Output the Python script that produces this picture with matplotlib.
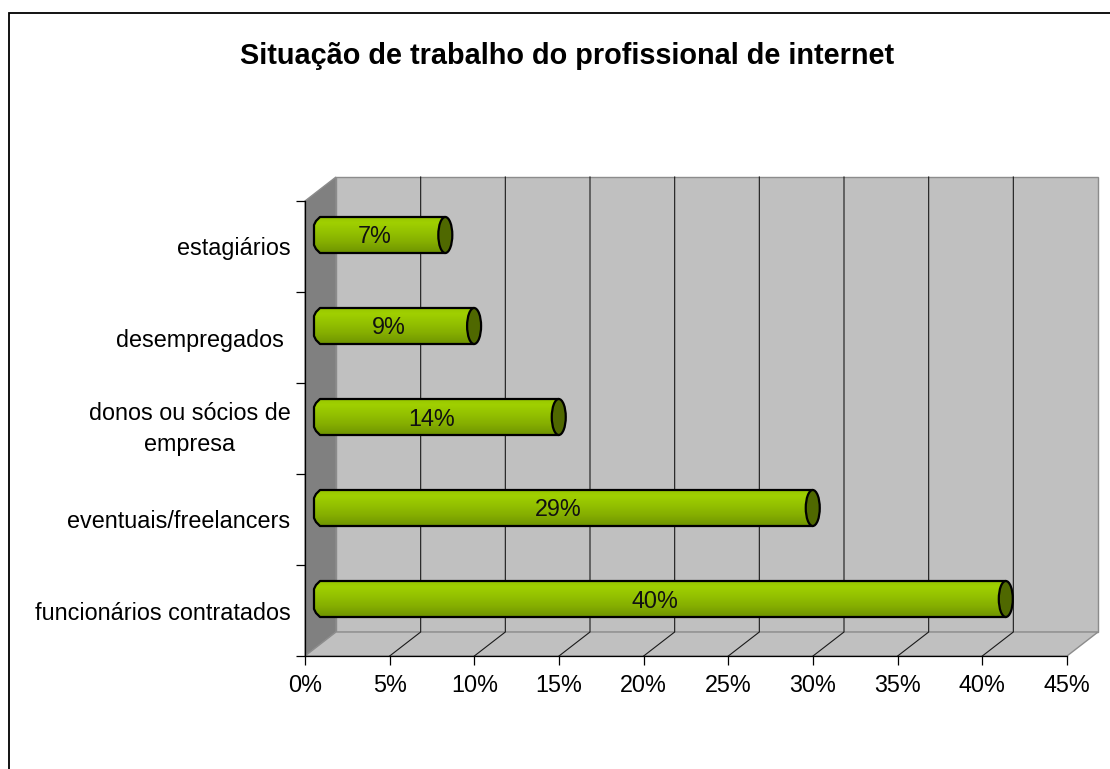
import matplotlib
matplotlib.use('Agg')
import matplotlib.pyplot as plt
import numpy as np
from matplotlib.colors import LinearSegmentedColormap
from matplotlib.patches import Ellipse, Polygon, Rectangle

categories = ['funcionários contratados', 'eventuais/freelancers', 'donos ou sócios de\nempresa',
              'desempregados ', 'estagiários']
values = [40.5, 29.1, 14.1, 9.1, 7.4]
value_labels = ['40%', '29%', '14%', '9%', '7%']
xticks = [0, 5, 10, 15, 20, 25, 30, 35, 40, 45]
title = 'Situação de trabalho do profissional de internet'

W, H = 1110, 769
plt.rcParams['font.family'] = ['Liberation Sans', 'DejaVu Sans']

fig = plt.figure(figsize=(W / 100, H / 100), dpi=100)
# frame is cut off by the image on the right and at the bottom
fig.add_artist(Rectangle((9 / W, -0.1), 1.2, 1.1 - 13 / H, transform=fig.transFigure,
                         fill=False, ec='black', lw=1.3))
fig.text(567 / W, 1 - 56 / H, title, ha='center', va='center', fontsize=20.8, fontweight='bold')

ax = fig.add_axes([305 / W, 1 - 656 / H, 762 / W, 455 / H])
ax.set_xlim(0, 45)
ax.set_ylim(0, 5)
ax.patch.set_visible(False)

# 3d box offsets, in data units
px_x = 45 / 762
px_y = 5 / 455
dx = 31 * px_x
dy = 24 * px_y

wall_gray = '#c0c0c0'
side_gray = '#808080'
edge_gray = '#8c8c8c'
ax.add_patch(Polygon([(dx, dy), (45 + dx, dy), (45 + dx, 5 + dy), (dx, 5 + dy)], fc=wall_gray, ec=edge_gray,
                     lw=1, clip_on=False, zorder=0))
ax.add_patch(Polygon([(0, 0), (dx, dy), (dx, 5 + dy), (0, 5)], fc=side_gray, ec=edge_gray, lw=1,
                     clip_on=False, zorder=0))
ax.add_patch(Polygon([(0, 0), (45, 0), (45 + dx, dy), (dx, dy)], fc=wall_gray, ec=edge_gray, lw=1,
                     clip_on=False, zorder=0))
for t in xticks[1:-1]:
    ax.plot([t, t + dx, t + dx], [0, dy, 5 + dy], color='#1a1a1a', lw=0.8, clip_on=False, zorder=1)

grad = LinearSegmentedColormap.from_list('bar', [(0, '#6f9400'), (0.3, '#85ae00'), (0.6, '#94c200'),
                                                 (0.85, '#a0d000'), (1, '#98c600')])
bar_h = 36 * px_y
y_off = 11.5 * px_y
x_off = 9 * px_x
cap_w = 14 * px_x
ramp = np.linspace(0, 1, 64).reshape(-1, 1)

for i, (v, lab) in enumerate(zip(values, value_labels)):
    yc = i + 0.5 + y_off
    end = v + 15 * px_x
    top = yc + bar_h / 2
    bot = yc - bar_h / 2
    body = Polygon([(x_off + 6 * px_x, top), (end, top), (end, bot), (x_off + 6 * px_x, bot),
                    (x_off + 2 * px_x, bot + 4 * px_y), (x_off, bot + 8 * px_y), (x_off, top - 8 * px_y),
                    (x_off + 2 * px_x, top - 4 * px_y)],
                   fc='none', ec='black', lw=1.6, joinstyle='round', zorder=4)
    ax.add_patch(body)
    im = ax.imshow(ramp, extent=(x_off, end, bot, top), origin='lower', cmap=grad, vmin=0, vmax=1,
                   aspect='auto', interpolation='bilinear', zorder=3)
    im.set_clip_path(body)
    ax.add_patch(Ellipse((end, yc), cap_w, bar_h, fc='#4f6800', ec='black', lw=1.6, zorder=5))
    ax.text((x_off + end) / 2 - 5 * px_x, yc - 2 * px_y, lab, ha='center', va='center', fontsize=16.8,
            color='#111111', zorder=6)

ax.set_xlim(0, 45)
ax.set_ylim(0, 5)
ax.set_xticks(xticks)
ax.set_xticklabels([f'{t}%' for t in xticks], fontsize=16.8)
ax.set_yticks(range(6))
ax.set_yticklabels([])
# two-line label sits a bit higher than the others
label_y = np.arange(5) + 0.5
label_y[2] += 6 * px_y
ax.set_yticks(label_y, categories, minor=True, fontsize=16.8, ha='right', multialignment='center',
              linespacing=1.45)
ax.tick_params(axis='y', which='minor', length=0, pad=10.5)
ax.tick_params(axis='both', which='major', length=6.5, width=0.9)
ax.tick_params(axis='x', which='major', pad=6.5)
for s in ['top', 'right']:
    ax.spines[s].set_visible(False)
for s in ['left', 'bottom']:
    ax.spines[s].set_linewidth(0.9)

fig.savefig('out.png', dpi=100)
